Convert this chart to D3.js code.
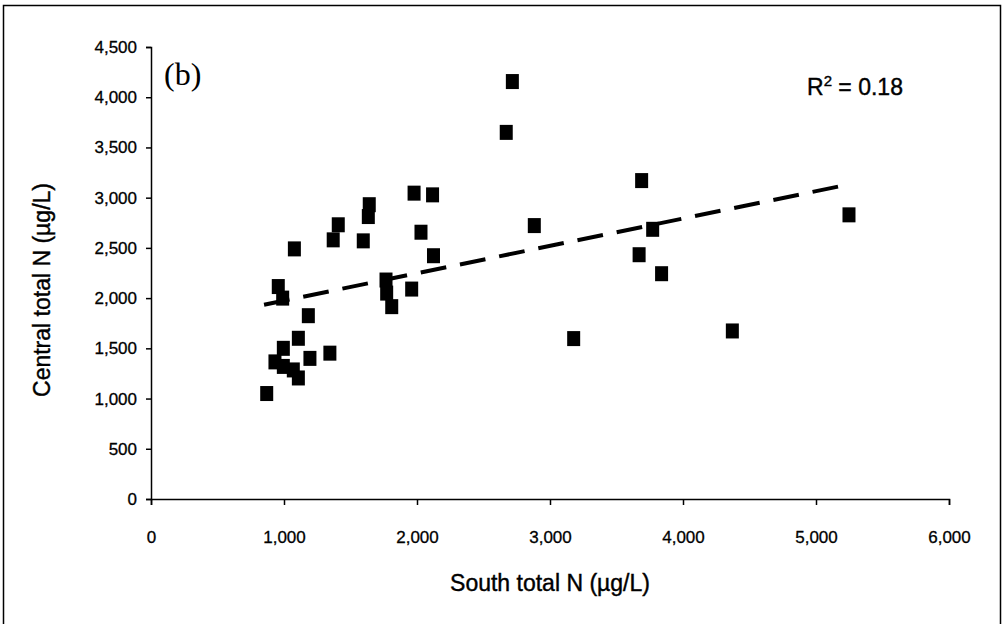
<!DOCTYPE html>
<html>
<head>
<meta charset="UTF-8">
<title>Central vs South total N</title>
<script src="https://d3js.org/d3.v7.min.js"></script>
<style>
    body {margin: 0; background: white;}
    text {fill: black; font-family: "Liberation Sans", Arial, sans-serif;}
    .axis path, .axis line {stroke: black; stroke-width: 1.5;}
    .axis text {font-size: 17px; stroke: black; stroke-width: 0.3;}
    .title {stroke: black; stroke-width: 0.4;}
</style>
</head>
<body>
<div class="chart"></div>
<script>
    // values
    var southN = [870, 932, 995, 1070, 1108, 995, 1108, 1195, 1345, 1183,
                  957, 990, 1078, 1370, 1408, 1596, 1634, 1641, 1767, 1772,
                  1810, 1960, 1978, 2117, 2030, 2124, 2671, 2717, 2882, 3178,
                  3689, 3772, 3670, 3839, 4371, 5248];
    var centralN = [1050, 1365, 1320, 1285, 1205, 1500, 1600, 1400, 1452, 1825,
                    2115, 2000, 2490, 2580, 2730, 2570, 2812, 2930, 2180, 2050,
                    1915, 2090, 3045, 3028, 2656, 2422, 3650, 4156, 2722, 1597,
                    3170, 2685, 2432, 2243, 1673, 2829];
    var trendX = [850, 5250];
    var trendY = [1934, 3133];
    var xTicks = [0, 1000, 2000, 3000, 4000, 5000, 6000];
    var yTicks = [0, 500, 1000, 1500, 2000, 2500, 3000, 3500, 4000, 4500];

    var width = 1005, height = 624;

    var svg = d3.select(".chart").append("svg")
        .attr("width", width)
        .attr("height", height);

    // frame round the whole figure (bottom edge falls off the page)
    svg.append("rect")
        .attr("x", 3.5).attr("y", 5.5)
        .attr("width", 997).attr("height", 640)
        .attr("fill", "none").attr("stroke", "black").attr("stroke-width", 1.5);

    var x = d3.scaleLinear().domain([0, 6000]).range([151, 949]);
    var y = d3.scaleLinear().domain([0, 4500]).range([499, 47]);

    svg.append("g")
        .attr("class", "axis")
        .attr("transform", "translate(0,499)")
        .call(d3.axisBottom(x).tickValues(xTicks).tickFormat(d3.format(",")).tickSizeOuter(0).tickSize(6).tickPadding(26));

    svg.append("g")
        .attr("class", "axis")
        .attr("transform", "translate(151,0)")
        .call(d3.axisLeft(y).tickValues(yTicks).tickFormat(d3.format(",")).tickSizeOuter(0).tickSize(5).tickPadding(9));

    // trend line
    svg.append("line")
        .attr("x1", x(trendX[0])).attr("y1", y(trendY[0]))
        .attr("x2", x(trendX[1])).attr("y2", y(trendY[1]))
        .attr("stroke", "black")
        .attr("stroke-width", 4)
        .attr("stroke-dasharray", "26,14");

    var pts = southN.map(function(d, i) {return [d, centralN[i]];});

    svg.append("g").selectAll("rect")
        .data(pts)
        .enter().append("rect")
        .attr("x", function(d) {return x(d[0]) - 6.5;})
        .attr("y", function(d) {return y(d[1]) - 7.5;})
        .attr("width", 13)
        .attr("height", 15)
        .attr("fill", "black");

    svg.append("text")
        .attr("class", "title")
        .attr("transform", "translate(50,290) rotate(-90)")
        .attr("text-anchor", "middle")
        .style("font-size", "23px")
        .text("Central total N (µg/L)");

    svg.append("text")
        .attr("class", "title")
        .attr("x", 550).attr("y", 591)
        .attr("text-anchor", "middle")
        .style("font-size", "23px")
        .text("South total N (µg/L)");

    svg.append("text")
        .attr("x", 164).attr("y", 85)
        .style("font-family", "'Liberation Serif', 'Times New Roman', serif")
        .style("font-size", "32px")
        .text("(b)");

    var r2 = svg.append("text")
        .attr("class", "title")
        .attr("x", 807).attr("y", 95)
        .style("font-size", "23px");
    r2.append("tspan").text("R");
    r2.append("tspan").attr("dy", -9).style("font-size", "15px").text("2");
    r2.append("tspan").attr("dy", 9).text(" = 0.18");
</script>
</body>
</html>
